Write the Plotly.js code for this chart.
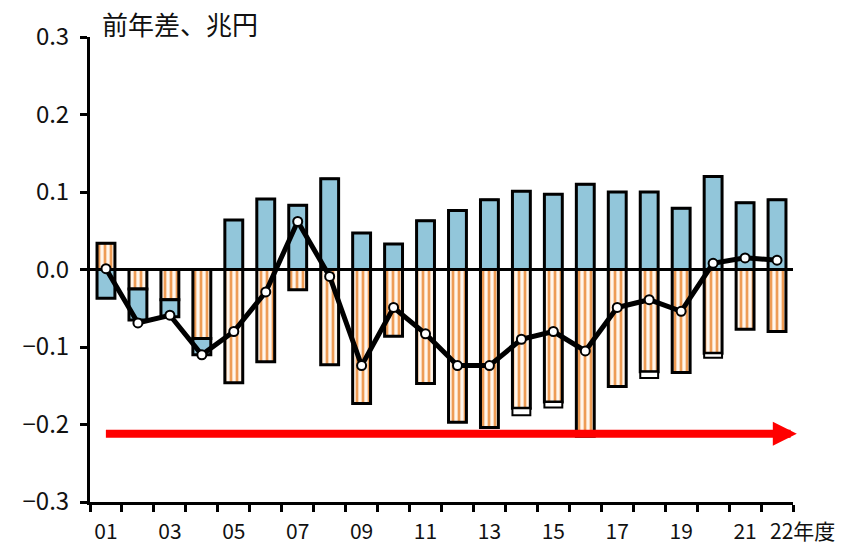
<!DOCTYPE html>
<html>
<head>
<meta charset="utf-8">
<script src="https://cdn.plot.ly/plotly-3.0.1.min.js"></script>
<style>html,body{margin:0;padding:0;background:#fff}#chart{width:858px;height:549px}</style>
</head>
<body>
<div id="chart"></div>
<script>
// Fiscal years 2001..2022 (x positions 1..22)
const years = [1,2,3,4,5,6,7,8,9,10,11,12,13,14,15,16,17,18,19,20,21,22];
const blueVals = [-0.037,-0.040,-0.022,-0.021,0.064,0.091,0.083,0.117,0.047,0.033,0.063,0.076,0.090,0.101,0.097,0.110,0.100,0.100,0.079,0.120,0.086,0.090];
const orangeVals = [0.034,-0.025,-0.039,-0.089,-0.146,-0.119,-0.026,-0.123,-0.173,-0.086,-0.147,-0.197,-0.204,-0.179,-0.171,-0.215,-0.151,-0.132,-0.133,-0.108,-0.077,-0.080];
const otherVals = [0,0,0,0,0,0,0,0,0,0,0,0,0,-0.009,-0.007,0,0,-0.008,0,-0.006,0,0];
const totalVals = [0.001,-0.069,-0.059,-0.110,-0.080,-0.029,0.062,-0.009,-0.124,-0.049,-0.083,-0.124,-0.124,-0.090,-0.080,-0.105,-0.049,-0.039,-0.054,0.008,0.015,0.012];
const xTickVals = [1,3,5,7,9,11,13,15,17,19,21];
const xTickText = ["01","03","05","07","09","11","13","15","17","19","21"];
const yTickVals = [-0.3,-0.2,-0.1,0,0.1,0.2,0.3];
const yTickText = ["\u22120.3","\u22120.2","\u22120.1","0.0","0.1","0.2","0.3"];
const arrowStart = 0.95, arrowEnd = 22.62, arrowLevel = -0.212;

const FONT = '"Noto Sans CJK JP", "Noto Sans", sans-serif';
const barW = 0.56;
const traces = [
  {type:'bar', x:years, y:orangeVals, width:barW,
   marker:{color:'#FCE3C6', pattern:{shape:'|', fgcolor:'#EE9C55', bgcolor:'#FFF6EC', size:6, solidity:0.45},
           line:{color:'#000', width:3}}, hoverinfo:'skip'},
  {type:'bar', x:years, y:blueVals, width:barW,
   marker:{color:'#92C6DA', line:{color:'#000', width:3}}, hoverinfo:'skip'},
  {type:'bar', x:years, y:otherVals, width:barW,
   marker:{color:'#FFFFFF', line:{color:'#000', width:2}}, hoverinfo:'skip'},
  {type:'scatter', mode:'lines+markers', x:years, y:totalVals,
   line:{color:'#000', width:5},
   marker:{symbol:'circle', size:9, color:'#fff', line:{color:'#000', width:2}},
   cliponaxis:false, hoverinfo:'skip'}
];

const layout = {
  width:858, height:549,
  margin:{l:90, r:65, t:37, b:47},
  paper_bgcolor:'#fff', plot_bgcolor:'#fff',
  barmode:'relative', showlegend:false,
  font:{family:FONT, color:'#111', size:21},
  xaxis:{range:[0.5,22.5], tickmode:'array', tickvals:xTickVals, ticktext:xTickText,
         ticks:'', showline:true, linecolor:'#000', linewidth:3, showgrid:false, zeroline:false,
         ticklabelstandoff:9, tickfont:{family:FONT, size:21},
         minor:{tickmode:'linear', tick0:0.5, dtick:1, ticks:'outside', ticklen:7, tickwidth:3, tickcolor:'#000', showgrid:false}},
  yaxis:{range:[-0.3,0.3], tickmode:'array', tickvals:yTickVals, ticktext:yTickText,
         ticks:'outside', ticklen:7, tickwidth:3, tickcolor:'#000',
         showline:true, linecolor:'#000', linewidth:3, showgrid:false,
         zeroline:true, zerolinecolor:'#000', zerolinewidth:3,
         ticklabelstandoff:6, tickfont:{family:FONT, size:24}},
  annotations:[
    {xref:'paper', yref:'paper', x:(100-90)/703, y:1+(37-24)/465, xanchor:'left', yanchor:'middle',
     text:'前年差、兆円', showarrow:false, font:{family:FONT, size:26, color:'#111'}},
    {xref:'paper', yref:'paper', x:(768-90)/703, y:-(530-502)/465, xanchor:'left', yanchor:'middle',
     text:'22年度', showarrow:false, font:{family:FONT, size:21, color:'#111'}},
    {xref:'x', yref:'y', x:arrowEnd, y:arrowLevel, axref:'x', ayref:'y', ax:arrowStart, ay:arrowLevel,
     text:'', showarrow:true, arrowhead:2, arrowsize:0.6, arrowwidth:8, arrowcolor:'#FF0000'}
  ]
};
Plotly.newPlot('chart', traces, layout, {staticPlot:true});
</script>
</body>
</html>
